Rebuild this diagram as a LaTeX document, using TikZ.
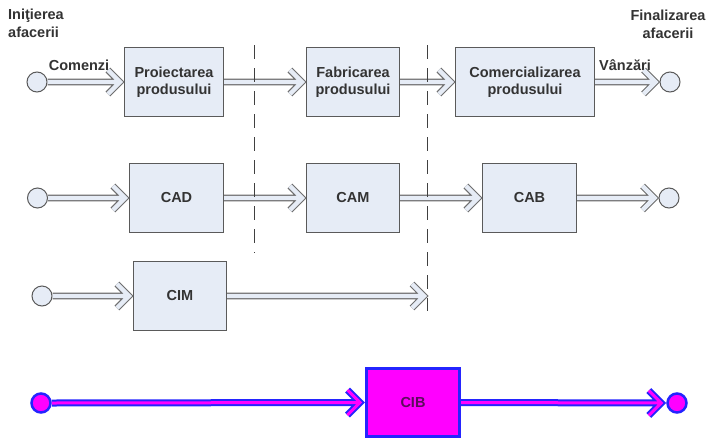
\documentclass[tikz,border=0pt]{standalone}
\usepackage{fontspec}
\setmainfont{Liberation Sans}
\definecolor{txt}{HTML}{333333}
\definecolor{boxfill}{HTML}{E6ECF6}
\definecolor{boxline}{HTML}{5A5A5A}
\definecolor{arrline}{HTML}{6E6E6E}
\definecolor{cibblue}{HTML}{2424FF}
\definecolor{cibmag}{HTML}{FF00FF}
\definecolor{cibtxt}{HTML}{5C0C5C}
\definecolor{dashcol}{HTML}{404040}
\begin{document}
\begin{tikzpicture}[x=1pt,y=-1pt,
  every node/.style={font=\fontsize{14.5}{17.5}\selectfont\bfseries, text=txt},
  proc/.style={draw=boxline, fill=boxfill, line width=1.2pt, minimum height=69pt, align=center, inner sep=0pt},
  term/.style={circle, draw=boxline, fill=boxfill, line width=1pt, minimum size=20pt, inner sep=0pt},
  flow/.style={draw=arrline, line width=1.1pt, double=boxfill, double distance=4.4pt, line join=miter},
  flowm/.style={draw=cibblue, line width=2pt, double=cibmag, double distance=3pt, line join=miter},
  chev/.style={to path={(\tikztostart) -- ([xshift=-4pt]\tikztotarget) ++(-12,12) -- ([xshift=-4pt]\tikztotarget) -- ++(-12,-12)}},
  chevm/.style={to path={(\tikztostart) -- ([xshift=-5pt]\tikztotarget) ++(-12.5,12.5) -- ([xshift=-5pt]\tikztotarget) -- ++(-12.5,-12.5)}},
  cibbox/.style={draw=cibblue, fill=cibmag, line width=3pt, minimum width=93pt, minimum height=68pt, inner sep=0pt, text=cibtxt},
  termm/.style={circle, draw=cibblue, fill=cibmag, line width=2.5pt, minimum size=19pt, inner sep=0pt},
  sep/.style={draw=dashcol, line width=1pt, dash pattern=on 14pt off 9pt}
]
\path[fill=white] (0,0) rectangle (708,439);
\useasboundingbox (0,0) rectangle (708,439);

% labels
\node[anchor=north west, align=left, inner sep=0pt] (init) at (8,9) {Iniţierea\\afacerii};
\node[anchor=north, align=center, inner sep=0pt] (fin) at (668,10) {Finalizarea\\afacerii};
\node[anchor=base, inner sep=0pt] (com) at (79,70) {Comenzi};
\node[anchor=base, inner sep=0pt] (van) at (625,70) {Vânzări};

% row 1
\node[term] (c1l) at (37,82) {};
\node[proc, minimum width=99pt] (p1) at (174,82) {Proiectarea\\produsului};
\node[proc, minimum width=93pt] (p2) at (353,82) {Fabricarea\\produsului};
\node[proc, minimum width=139pt] (p3) at (525,82) {Comercializarea\\produsului};
\node[term] (c1r) at (670,82) {};
\draw[flow] (c1l.east) to[chev] (p1.west);
\draw[flow] (p1.east) to[chev] (p2.west);
\draw[flow] (p2.east) to[chev] (p3.west);
\draw[flow] (p3.east) to[chev] (c1r.west);

% row 2
\node[term] (c2l) at (37.5,198) {};
\node[proc, minimum width=94pt] (cad) at (176.5,198) {CAD};
\node[proc, minimum width=93pt] (cam) at (353,198) {CAM};
\node[proc, minimum width=94pt] (cab) at (529.5,198) {CAB};
\node[term] (c2r) at (669,198) {};
\draw[flow] (c2l.east) to[chev] (cad.west);
\draw[flow] (cad.east) to[chev] (cam.west);
\draw[flow] (cam.east) to[chev] (cab.west);
\draw[flow] (cab.east) to[chev] (c2r.west);

% row 3
\node[term] (c3l) at (42,296) {};
\node[proc, minimum width=93pt] (cim) at (180,296) {CIM};
\coordinate (e3) at (428,296);
\draw[flow] (c3l.east) to[chev] (cim.west);
\draw[flow] (cim.east) to[chev] (e3);

% separators
\draw[sep] (254,45) -- (254,253);
\draw[sep] (427,45) -- (427,311);

% row 4
\node[termm] (c4l) at (41,403) {};
\node[cibbox] (cib) at (413,402.5) {CIB};
\node[termm] (c4r) at (677,403) {};
\draw[flowm] (c4l.east) to[chevm] (cib.west);
\draw[flowm] (cib.east) to[chevm] (c4r.west);
\end{tikzpicture}
\end{document}
